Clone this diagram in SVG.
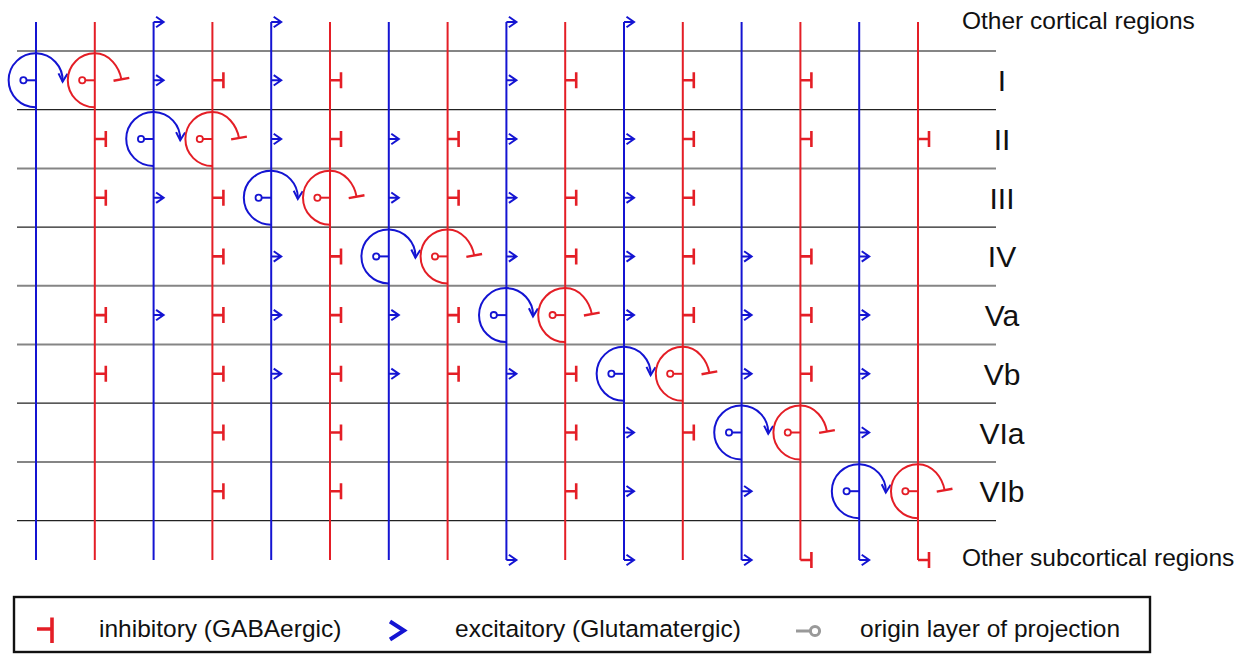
<svg xmlns="http://www.w3.org/2000/svg" xmlns:xlink="http://www.w3.org/1999/xlink" width="1248" height="657" viewBox="0 0 1248 657">
  <style>
    .b { stroke: #1414d2; fill: none; stroke-width: 2; }
    .r { stroke: #e41e26; fill: none; stroke-width: 2; }
    .bar { stroke-width: 2.6; }
    .dot-b { stroke: #1414d2; fill: #fff; stroke-width: 1.8; }
    .dot-r { stroke: #e41e26; fill: #fff; stroke-width: 1.8; }
    .layer-g { stroke: #858585; stroke-width: 2; }
    .layer-k { stroke: #222; stroke-width: 1.3; }
    .lbl { font-family: "Liberation Sans", Arial, sans-serif; fill: #111; }
    .layer-name { font-size: 30px; text-anchor: middle; }
    .note { font-size: 24.5px; }
  </style>
  <defs>
    <marker id="arrow-head" markerUnits="userSpaceOnUse" orient="auto" overflow="visible" markerWidth="1" markerHeight="1" refX="0" refY="0">
      <path d="M-8,-4.5 L0,0 L-8,4.5" fill="none" stroke="#1414d2" stroke-width="2"/>
    </marker>
    <marker id="t-bar" markerUnits="userSpaceOnUse" orient="auto" overflow="visible" markerWidth="1" markerHeight="1" refX="0" refY="0">
      <path d="M0,-8 V8" fill="none" stroke="#e41e26" stroke-width="2.4"/>
    </marker>
    <!-- excitatory terminal on a projection -->
    <path id="exc" class="b" d="M0,0 H10 M2.5,-5.2 L10,0 L2.5,5.2"/>
    <!-- inhibitory terminal on a projection -->
    <path id="inh" class="r bar" d="M0,0 H11 M11,-8 V8"/>
    <!-- origin loop of an excitatory cell -->
    <g id="exc-loop">
      <path class="b" d="M0,27 A27,27 0 1 1 26.6,1.3" marker-end="url(#arrow-head)"/>
      <path class="b" d="M0,0 H-9.5"/>
      <circle class="dot-b" cx="-12.6" cy="0" r="3.1"/>
    </g>
    <!-- origin loop of an inhibitory cell -->
    <g id="inh-loop">
      <path class="r" d="M0,27 A27,27 0 0 1 0,-27 C15,-27 24.4,-13 26.6,-1" marker-end="url(#t-bar)"/>
      <path class="r" d="M0,0 H-9.5"/>
      <circle class="dot-r" cx="-12.6" cy="0" r="3.1"/>
    </g>
  </defs>

  <rect width="1248" height="657" fill="#fff"/>

  <!-- layer boundaries -->
  <g id="layers">
    <line class="layer-g" x1="17" y1="51" x2="996" y2="51"/>
    <line class="layer-k" x1="17" y1="109.7" x2="996" y2="109.7"/>
    <line class="layer-g" x1="17" y1="168.4" x2="996" y2="168.4"/>
    <line class="layer-k" x1="17" y1="227.1" x2="996" y2="227.1"/>
    <line class="layer-g" x1="17" y1="285.8" x2="996" y2="285.8"/>
    <line class="layer-g" x1="17" y1="344.5" x2="996" y2="344.5"/>
    <line class="layer-k" x1="17" y1="403.2" x2="996" y2="403.2"/>
    <line class="layer-g" x1="17" y1="461.9" x2="996" y2="461.9"/>
    <line class="layer-k" x1="17" y1="520.6" x2="996" y2="520.6"/>
  </g>

  <g id="labels" class="lbl">
    <text class="note" x="962" y="29">Other cortical regions</text>
    <text class="layer-name" x="1002" y="91.3">I</text>
    <text class="layer-name" x="1002" y="150">II</text>
    <text class="layer-name" x="1002" y="208.7">III</text>
    <text class="layer-name" x="1002" y="267.4">IV</text>
    <text class="layer-name" x="1002" y="326.1">Va</text>
    <text class="layer-name" x="1002" y="384.8">Vb</text>
    <text class="layer-name" x="1002" y="443.5">VIa</text>
    <text class="layer-name" x="1002" y="502.2">VIb</text>
    <text class="note" x="962" y="566">Other subcortical regions</text>
  </g>

  <!-- projections: one vertical axon per cell type, terminals on the layers it reaches -->
  <g id="connectors">
    <g id="I-exc">
      <line class="b" x1="36" y1="22" x2="36" y2="560"/>
      <use href="#exc-loop" transform="translate(36,80.3)"/>
    </g>
    <g id="I-inh">
      <line class="r" x1="94.8" y1="22" x2="94.8" y2="560"/>
      <use href="#inh-loop" transform="translate(94.8,80.3)"/>
      <use href="#inh" transform="translate(94.8,139)"/>
      <use href="#inh" transform="translate(94.8,197.7)"/>
      <use href="#inh" transform="translate(94.8,315.1)"/>
      <use href="#inh" transform="translate(94.8,373.8)"/>
    </g>
    <g id="II-exc">
      <line class="b" x1="153.6" y1="22" x2="153.6" y2="560"/>
      <use href="#exc" transform="translate(153.6,22)"/>
      <use href="#exc" transform="translate(153.6,80.3)"/>
      <use href="#exc-loop" transform="translate(153.6,139)"/>
      <use href="#exc" transform="translate(153.6,197.7)"/>
      <use href="#exc" transform="translate(153.6,315.1)"/>
    </g>
    <g id="II-inh">
      <line class="r" x1="212.4" y1="22" x2="212.4" y2="560"/>
      <use href="#inh" transform="translate(212.4,80.3)"/>
      <use href="#inh-loop" transform="translate(212.4,139)"/>
      <use href="#inh" transform="translate(212.4,197.7)"/>
      <use href="#inh" transform="translate(212.4,256.4)"/>
      <use href="#inh" transform="translate(212.4,315.1)"/>
      <use href="#inh" transform="translate(212.4,373.8)"/>
      <use href="#inh" transform="translate(212.4,432.5)"/>
      <use href="#inh" transform="translate(212.4,491.2)"/>
    </g>
    <g id="III-exc">
      <line class="b" x1="271.2" y1="22" x2="271.2" y2="560"/>
      <use href="#exc" transform="translate(271.2,22)"/>
      <use href="#exc" transform="translate(271.2,80.3)"/>
      <use href="#exc" transform="translate(271.2,139)"/>
      <use href="#exc-loop" transform="translate(271.2,197.7)"/>
      <use href="#exc" transform="translate(271.2,256.4)"/>
      <use href="#exc" transform="translate(271.2,315.1)"/>
      <use href="#exc" transform="translate(271.2,373.8)"/>
    </g>
    <g id="III-inh">
      <line class="r" x1="330" y1="22" x2="330" y2="560"/>
      <use href="#inh" transform="translate(330,80.3)"/>
      <use href="#inh" transform="translate(330,139)"/>
      <use href="#inh-loop" transform="translate(330,197.7)"/>
      <use href="#inh" transform="translate(330,256.4)"/>
      <use href="#inh" transform="translate(330,315.1)"/>
      <use href="#inh" transform="translate(330,373.8)"/>
      <use href="#inh" transform="translate(330,432.5)"/>
      <use href="#inh" transform="translate(330,491.2)"/>
    </g>
    <g id="IV-exc">
      <line class="b" x1="388.8" y1="22" x2="388.8" y2="560"/>
      <use href="#exc" transform="translate(388.8,139)"/>
      <use href="#exc" transform="translate(388.8,197.7)"/>
      <use href="#exc-loop" transform="translate(388.8,256.4)"/>
      <use href="#exc" transform="translate(388.8,315.1)"/>
      <use href="#exc" transform="translate(388.8,373.8)"/>
    </g>
    <g id="IV-inh">
      <line class="r" x1="447.6" y1="22" x2="447.6" y2="560"/>
      <use href="#inh" transform="translate(447.6,139)"/>
      <use href="#inh" transform="translate(447.6,197.7)"/>
      <use href="#inh-loop" transform="translate(447.6,256.4)"/>
      <use href="#inh" transform="translate(447.6,315.1)"/>
      <use href="#inh" transform="translate(447.6,373.8)"/>
    </g>
    <g id="Va-exc">
      <line class="b" x1="506.4" y1="22" x2="506.4" y2="560"/>
      <use href="#exc" transform="translate(506.4,22)"/>
      <use href="#exc" transform="translate(506.4,80.3)"/>
      <use href="#exc" transform="translate(506.4,139)"/>
      <use href="#exc" transform="translate(506.4,197.7)"/>
      <use href="#exc" transform="translate(506.4,256.4)"/>
      <use href="#exc-loop" transform="translate(506.4,315.1)"/>
      <use href="#exc" transform="translate(506.4,373.8)"/>
      <use href="#exc" transform="translate(506.4,560)"/>
    </g>
    <g id="Va-inh">
      <line class="r" x1="565.2" y1="22" x2="565.2" y2="560"/>
      <use href="#inh" transform="translate(565.2,80.3)"/>
      <use href="#inh" transform="translate(565.2,197.7)"/>
      <use href="#inh" transform="translate(565.2,256.4)"/>
      <use href="#inh-loop" transform="translate(565.2,315.1)"/>
      <use href="#inh" transform="translate(565.2,373.8)"/>
      <use href="#inh" transform="translate(565.2,432.5)"/>
      <use href="#inh" transform="translate(565.2,491.2)"/>
    </g>
    <g id="Vb-exc">
      <line class="b" x1="624" y1="22" x2="624" y2="560"/>
      <use href="#exc" transform="translate(624,22)"/>
      <use href="#exc" transform="translate(624,139)"/>
      <use href="#exc" transform="translate(624,197.7)"/>
      <use href="#exc" transform="translate(624,256.4)"/>
      <use href="#exc" transform="translate(624,315.1)"/>
      <use href="#exc-loop" transform="translate(624,373.8)"/>
      <use href="#exc" transform="translate(624,432.5)"/>
      <use href="#exc" transform="translate(624,491.2)"/>
      <use href="#exc" transform="translate(624,560)"/>
    </g>
    <g id="Vb-inh">
      <line class="r" x1="682.8" y1="22" x2="682.8" y2="560"/>
      <use href="#inh" transform="translate(682.8,80.3)"/>
      <use href="#inh" transform="translate(682.8,139)"/>
      <use href="#inh" transform="translate(682.8,197.7)"/>
      <use href="#inh" transform="translate(682.8,256.4)"/>
      <use href="#inh" transform="translate(682.8,315.1)"/>
      <use href="#inh-loop" transform="translate(682.8,373.8)"/>
      <use href="#inh" transform="translate(682.8,432.5)"/>
    </g>
    <g id="VIa-exc">
      <line class="b" x1="741.6" y1="22" x2="741.6" y2="560"/>
      <use href="#exc" transform="translate(741.6,256.4)"/>
      <use href="#exc" transform="translate(741.6,315.1)"/>
      <use href="#exc" transform="translate(741.6,373.8)"/>
      <use href="#exc-loop" transform="translate(741.6,432.5)"/>
      <use href="#exc" transform="translate(741.6,491.2)"/>
      <use href="#exc" transform="translate(741.6,560)"/>
    </g>
    <g id="VIa-inh">
      <line class="r" x1="800.4" y1="22" x2="800.4" y2="560"/>
      <use href="#inh" transform="translate(800.4,80.3)"/>
      <use href="#inh" transform="translate(800.4,139)"/>
      <use href="#inh" transform="translate(800.4,256.4)"/>
      <use href="#inh" transform="translate(800.4,315.1)"/>
      <use href="#inh" transform="translate(800.4,373.8)"/>
      <use href="#inh-loop" transform="translate(800.4,432.5)"/>
      <use href="#inh" transform="translate(800.4,560)"/>
    </g>
    <g id="VIb-exc">
      <line class="b" x1="859.2" y1="22" x2="859.2" y2="560"/>
      <use href="#exc" transform="translate(859.2,256.4)"/>
      <use href="#exc" transform="translate(859.2,315.1)"/>
      <use href="#exc" transform="translate(859.2,373.8)"/>
      <use href="#exc" transform="translate(859.2,432.5)"/>
      <use href="#exc-loop" transform="translate(859.2,491.2)"/>
      <use href="#exc" transform="translate(859.2,560)"/>
    </g>
    <g id="VIb-inh">
      <line class="r" x1="918" y1="22" x2="918" y2="560"/>
      <use href="#inh" transform="translate(918,139)"/>
      <use href="#inh-loop" transform="translate(918,491.2)"/>
      <use href="#inh" transform="translate(918,560)"/>
    </g>
  </g>

  <!-- key -->
  <g id="legend">
    <rect x="14" y="597" width="1136" height="55" fill="none" stroke="#111" stroke-width="2.4"/>
    <path d="M37,629 H52 M52,617.5 V643" fill="none" stroke="#e41e26" stroke-width="3.6"/>
    <text class="lbl note" x="99" y="637">inhibitory (GABAergic)</text>
    <path d="M390,621.5 L404,630.5 L390,639.5" fill="none" stroke="#1414d2" stroke-width="4"/>
    <text class="lbl note" x="455" y="637">excitaitory (Glutamatergic)</text>
    <path d="M796,631 H810" fill="none" stroke="#999" stroke-width="3"/>
    <circle cx="815" cy="631" r="4.6" fill="#fff" stroke="#999" stroke-width="3"/>
    <text class="lbl note" x="860" y="637">origin layer of projection</text>
  </g>
</svg>
